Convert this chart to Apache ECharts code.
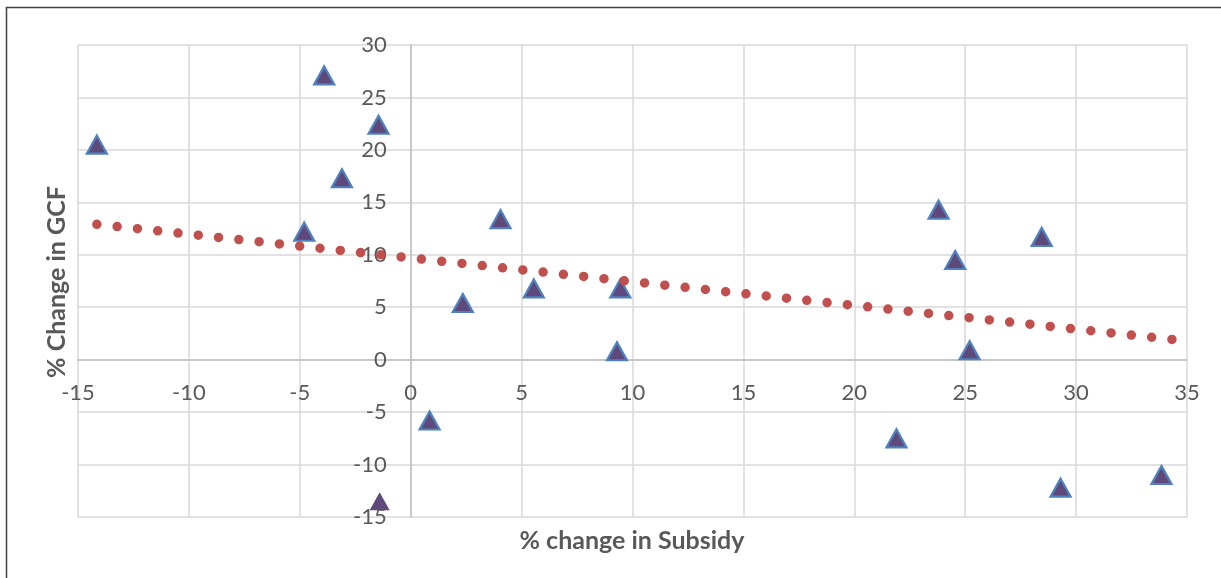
<!DOCTYPE html>
<html>
<head>
<meta charset="utf-8">
<title>% change in Subsidy vs % Change in GCF</title>
<script src="https://cdn.jsdelivr.net/npm/echarts@6/dist/echarts.min.js"></script>
<style>
  html, body { margin: 0; padding: 0; background: #fff; }
  #chart { width: 1221px; height: 578px; }
</style>
</head>
<body>
<div id="chart"></div>
<script>
  /** 补贴变化 (x) */
  const subsidyChange = [-14.15, -3.9, -1.45, -3.1, -4.8, 4.05, 2.35, 5.55, 9.45, 9.3, 0.85, -1.4, 21.9, 29.3, 33.85, 23.8, 24.55, 28.45, 25.2]
  /** GCF 变化 (y) */
  const gcfChange = [20.5, 27.1, 22.4, 17.3, 12.2, 13.4, 5.4, 6.8, 6.8, 0.8, -5.8, -13.5, -7.5, -12.2, -11.0, 14.3, 9.5, 11.7, 0.9]
  /** 趋势线两端 */
  const trendX = [-14.15, 34.45]
  const trendY = [12.9, 1.9]
  /** 刻度 */
  const xTicks = [-15, 35, 5]
  const yTicks = [-15, 30, 5]

  const labelColor = '#595959'
  const labelFont = 'Lato, "Open Sans", sans-serif'

  /** 绘图区 */
  const gridLeft = 78
  const gridTop = 45
  const gridWidth = 1109
  const gridHeight = 472

  const points = subsidyChange.map((x, i) => {
    const item = { value: [x, gcfChange[i]] }
    // this one has no outline in the original
    if (i === 11) item.itemStyle = { borderWidth: 0 }
    return item
  })
  const trend = trendX.map((x, i) => [x, trendY[i]])

  // move axes (line + labels) onto the zero lines
  const xOffset = -gridHeight * (0 - yTicks[0]) / (yTicks[1] - yTicks[0])
  const yOffset = -gridWidth * (0 - xTicks[0]) / (xTicks[1] - xTicks[0])

  const chart = echarts.init(document.getElementById('chart'))
  chart.setOption({
    animation: false,
    backgroundColor: '#fff',
    grid: { left: gridLeft, top: gridTop, width: gridWidth, height: gridHeight },
    xAxis: {
      type: 'value',
      min: xTicks[0],
      max: xTicks[1],
      interval: xTicks[2],
      offset: xOffset,
      axisLine: { onZero: false, lineStyle: { color: '#BFBFBF', width: 1.5 } },
      axisTick: { show: false },
      axisLabel: { margin: 22, color: labelColor, fontSize: 22, fontFamily: labelFont },
      splitLine: { lineStyle: { color: '#D9D9D9', width: 1.5 } }
    },
    yAxis: {
      type: 'value',
      min: yTicks[0],
      max: yTicks[1],
      interval: yTicks[2],
      offset: yOffset,
      axisLine: { onZero: false, lineStyle: { color: '#BFBFBF', width: 1.5 } },
      axisTick: { show: false },
      axisLabel: { margin: 24, color: labelColor, fontSize: 22, fontFamily: labelFont },
      splitLine: { lineStyle: { color: '#D9D9D9', width: 1.5 } }
    },
    series: [
      {
        type: 'scatter',
        symbol: 'triangle',
        symbolSize: [20, 18],
        itemStyle: { color: '#5F497A', borderColor: '#4F81BD', borderWidth: 2.2, opacity: 1 },
        data: points
      },
      {
        type: 'line',
        showSymbol: false,
        silent: true,
        lineStyle: { color: '#C0504D', width: 9.5, type: [0, 20.4], cap: 'round' },
        data: trend
      }
    ],
    graphic: [
      {
        type: 'rect',
        z: -1,
        shape: { x: 6.5, y: 7.5, width: 1400, height: 800 },
        style: { fill: 'none', stroke: '#404040', lineWidth: 1.5 }
      },
      {
        type: 'text',
        x: 632,
        y: 541,
        style: {
          text: '% change in Subsidy',
          font: 'bold 25px ' + labelFont,
          fill: labelColor,
          align: 'center',
          verticalAlign: 'middle'
        }
      },
      {
        type: 'text',
        x: 57,
        y: 282,
        rotation: Math.PI / 2,
        style: {
          text: '% Change in GCF',
          font: 'bold 25px ' + labelFont,
          fill: labelColor,
          align: 'center',
          verticalAlign: 'middle'
        }
      }
    ]
  })
</script>
</body>
</html>
